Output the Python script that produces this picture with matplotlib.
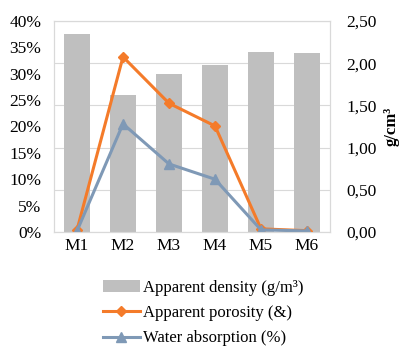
import matplotlib.pyplot as plt
import numpy as np
from matplotlib.ticker import FuncFormatter, MultipleLocator

plt.rcParams["font.family"] = ["Liberation Serif", "DejaVu Serif"]

samples = ["M1", "M2", "M3", "M4", "M5", "M6"]
density = [2.35, 1.62, 1.87, 1.98, 2.13, 2.12]          # g/cm3, right axis
porosity = [0.4, 33.2, 24.4, 20.1, 0.6, 0.25]           # %, left axis
absorption = [0.2, 20.5, 12.9, 10.0, 0.4, 0.2]          # %, left axis

fig = plt.figure(figsize=(4.04, 3.5), dpi=100)
ax = fig.add_axes([54 / 404, 1 - 232 / 350, 276 / 404, 211 / 350])
ax2 = ax.twinx()

x = np.arange(len(samples))

# bars on the secondary (g/cm3) axis, drawn behind the lines
ax2.bar(x, density, width=0.56, color="#BFBFBF", zorder=1, label="Apparent density (g/m³)")
ax2.set_ylim(0, 2.5)
ax2.yaxis.set_major_locator(MultipleLocator(0.5))
ax2.yaxis.set_major_formatter(FuncFormatter(lambda v, _: f"{v:.2f}".replace(".", ",")))
ax2.grid(axis="y", color="#D9D9D9", lw=0.8)
ax2.set_axisbelow(True)
ax2.set_ylabel("g/cm³", fontweight="bold", fontsize=12, labelpad=5)

ax.set_zorder(ax2.get_zorder() + 1)
ax.patch.set_visible(False)
ax.plot(x, porosity, color="#F47B2A", lw=2.2, marker="D", ms=5, label="Apparent porosity (&)")
ax.plot(x, absorption, color="#7F99B6", lw=2.2, marker="^", ms=6.5, label="Water absorption (%)")
ax.set_ylim(0, 40)
ax.yaxis.set_major_locator(MultipleLocator(5))
ax.yaxis.set_major_formatter(FuncFormatter(lambda v, _: f"{v:.0f}%"))
ax.set_xlim(-0.5, len(samples) - 0.5)
ax.set_xticks(x)
ax.set_xticklabels(samples)

ax.tick_params(axis="y", length=0, labelsize=12.5, pad=9)
ax.tick_params(axis="x", length=0, labelsize=12.5, pad=4)
ax2.tick_params(axis="y", length=0, labelsize=12.5, pad=12)
for a in (ax, ax2):
    for s in a.spines.values():
        s.set_color("#D9D9D9")
        s.set_linewidth(0.8)

h1, l1 = ax2.get_legend_handles_labels()
h2, l2 = ax.get_legend_handles_labels()
fig.legend(h1 + h2, l1 + l2, loc="upper left", bbox_to_anchor=(103 / 404, 1 - 280 / 350),
           frameon=False, fontsize=12, handlelength=2.2, handletextpad=0.2,
           labelspacing=0.55, borderpad=0, borderaxespad=0)

fig.savefig("out.png", dpi=100)
